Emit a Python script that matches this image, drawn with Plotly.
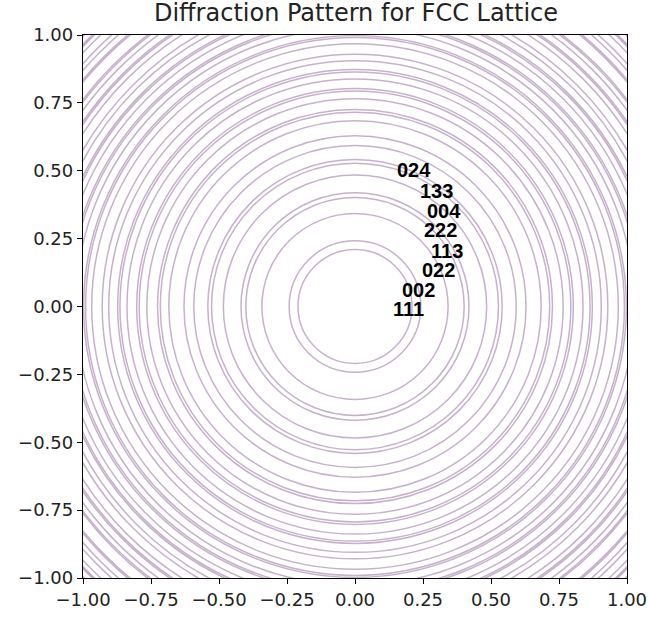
import plotly.graph_objects as go

# FCC allowed reflections: h^2+k^2+l^2 values (unmixed h,k,l)
ring_N = [3, 4, 8, 11, 12, 16, 19, 20, 24, 27, 32, 35, 36, 40, 43, 44, 48, 51, 52,
          56, 59, 64, 67, 68, 72, 75, 76, 80, 83, 84, 88, 91, 96, 99, 100, 104, 107,
          108, 115, 116, 120, 123, 128, 131, 132, 136, 139]
ring_scale = 0.121  # radius per sqrt(N)

label_text = ["111", "002", "022", "113", "222", "004", "133", "024"]
label_x = [0.198, 0.233, 0.306, 0.340, 0.3125, 0.329, 0.299, 0.217]
label_y = [-0.0085, 0.0615, 0.134, 0.2055, 0.281, 0.350, 0.424, 0.502]

tick_vals = [-1.0, -0.75, -0.5, -0.25, 0.0, 0.25, 0.5, 0.75, 1.0]
tick_text = ["\u22121.00", "\u22120.75", "\u22120.50", "\u22120.25", "0.00",
             "0.25", "0.50", "0.75", "1.00"]

ring_color = "rgba(80,10,100,0.32)"

fig = go.Figure()
fig.add_trace(go.Scatter(x=[None], y=[None], mode="lines", showlegend=False))

shapes = []
for n in ring_N:
    r = ring_scale * n ** 0.5
    shapes.append(dict(type="circle", xref="x", yref="y", x0=-r, y0=-r, x1=r, y1=r,
                       line=dict(color=ring_color, width=1.5), layer="below"))

annotations = []
for t, x, y in zip(label_text, label_x, label_y):
    annotations.append(dict(x=x, y=y, xref="x", yref="y", text=t, showarrow=False,
                            xanchor="center", yanchor="middle",
                            font=dict(family="Liberation Sans", size=20,
                                      weight="bold", color="black")))

axis_common = dict(range=[-1, 1], tickvals=tick_vals, ticktext=tick_text,
                   showgrid=False, zeroline=False, showline=True, linecolor="black",
                   linewidth=1.3, mirror=True, ticks="outside", ticklen=5,
                   tickwidth=1.2, tickcolor="black", automargin=False,
                   tickfont=dict(family="DejaVu Sans", size=18, color="#222222"))

fig.update_layout(
    width=648, height=617,
    margin=dict(l=83, r=21, t=35, b=39, autoexpand=False),
    plot_bgcolor="white", paper_bgcolor="white",
    shapes=shapes, annotations=annotations,
    title=dict(text="Diffraction Pattern for FCC Lattice", x=356 / 648,
               xanchor="center", xref="container", yref="container",
               y=1 - 13 / 617, yanchor="middle", automargin=False,
               font=dict(family="DejaVu Sans", size=24, color="#222222")),
    xaxis=axis_common, yaxis=axis_common,
    showlegend=False,
)

fig.write_html("out.html", config={"displayModeBar": False},
               post_script="document.body.style.margin='0';document.body.style.overflow='hidden';")
